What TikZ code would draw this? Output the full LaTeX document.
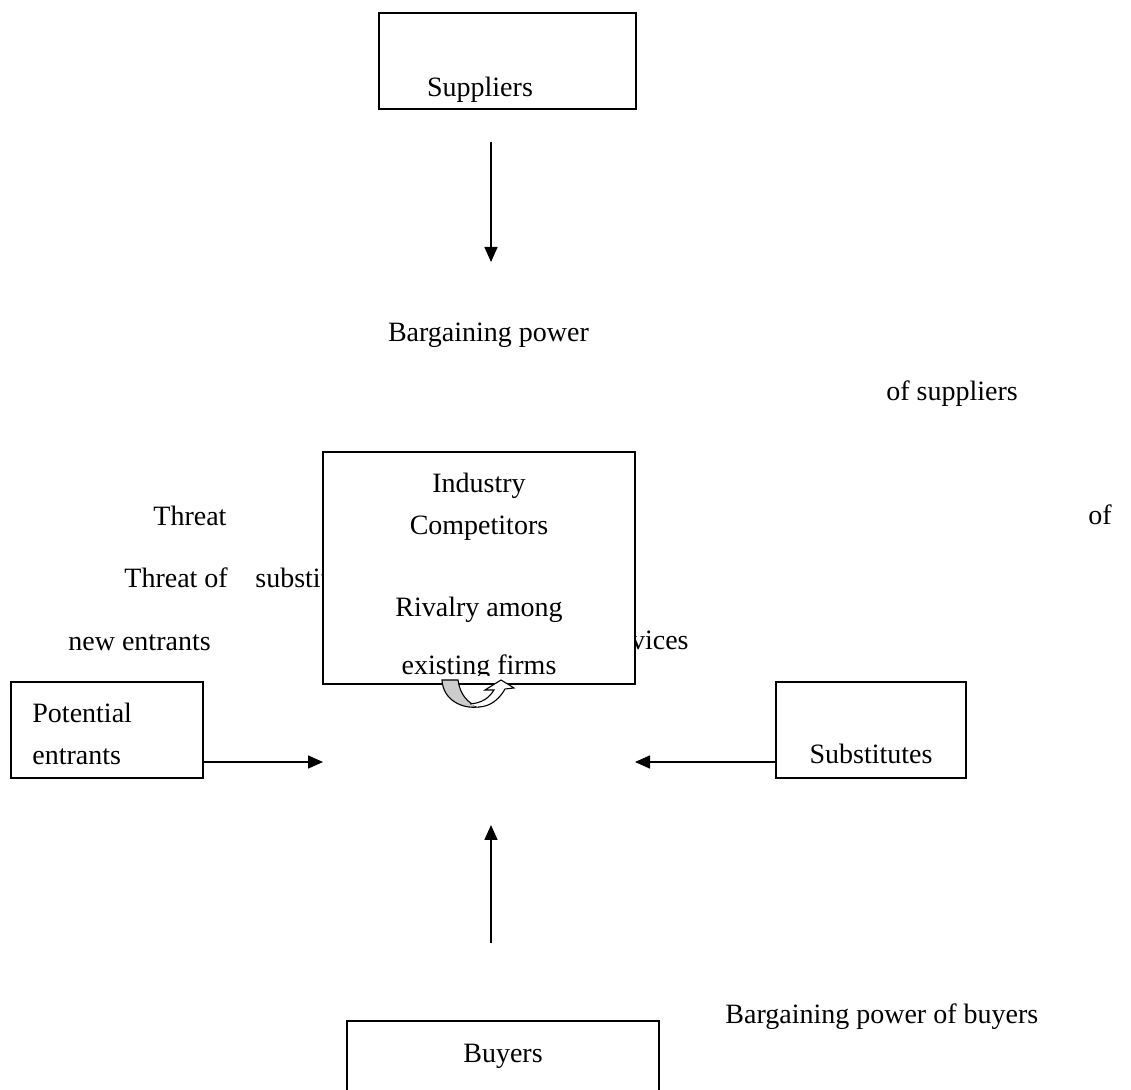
\documentclass[tikz,border=0pt]{standalone}
\usepackage{fontspec}
\setmainfont{Liberation Serif}
\usetikzlibrary{arrows.meta}
\begin{document}
\begin{tikzpicture}[x=0.5pt,y=-0.5pt,
  box/.style={draw, line width=0.85pt, fill=white, inner sep=0pt, rectangle},
  lbl/.style={inner sep=0pt, font=\fontsize{14}{16}\selectfont},
  arr/.style={line width=0.8pt, -{Triangle[length=7.5pt,width=6.5pt]}},
  uturn/.style={draw, line width=0.55pt}]
\clip (0,0) rectangle (1131,1090);
\fill[white] (0,0) rectangle (1131,1090);

% free-standing labels
\node[lbl, anchor=base] (bps) at (488.5,342) {Bargaining power};
\node[lbl, anchor=base] (ofs) at (952,401) {of suppliers};
\node[lbl, anchor=base west] (thr1) at (153,526) {Threat};
\node[lbl, anchor=base west] (ofr) at (1088,525) {of};
\node[lbl, anchor=base west] (thr2) at (124,588) {Threat of};
\node[lbl, anchor=base west] (subs) at (255,588) {substit};
\node[lbl, anchor=base west] (newe) at (68,651) {new entrants};
\node[lbl, anchor=base east] (vic) at (689,650) {rvices};
\node[lbl, anchor=base west] (bpb) at (725,1023) {Bargaining power of buyers};

% boxes
\node[box, minimum width=128.5pt, minimum height=48pt] (sup) at (507.5,61) {};
\node[lbl, anchor=base] (supt) at (480,97) {Suppliers};

\node[box, minimum width=156pt, minimum height=116pt] (ind) at (479,568) {};
\node[lbl, anchor=base] (ind1) at (479,493) {Industry};
\node[lbl, anchor=base] (ind2) at (479,535) {Competitors};
\node[lbl, anchor=base] (ind3) at (479,617) {Rivalry among};
\begin{scope}
  \clip (323,600) rectangle (635,676);
  \node[lbl, anchor=base] (ind4) at (479,675) {existing firms};
\end{scope}

\node[box, minimum width=96pt, minimum height=48pt] (pot) at (107,730) {};
\node[lbl, anchor=base west] (pot1) at (32,723) {Potential};
\node[lbl, anchor=base west] (pot2) at (32,765) {entrants};

\node[box, minimum width=95pt, minimum height=48pt] (sub) at (871,730) {};
\node[lbl, anchor=base] (subt) at (871,764) {Substitutes};

\node[box, minimum width=156pt, minimum height=48pt] (buy) at (503,1069) {};
\node[lbl, anchor=base] (buyt) at (503,1062) {Buyers};

% arrows
\coordinate (s1) at (491,142);
\coordinate (s2) at (491,262);
\draw[arr] (s1) -- (s2);

\coordinate (pa) at (323,762);
\draw[arr] (pot.east |- pa) -- (pa);

\coordinate (sa) at (635,762);
\draw[arr] (sub.west |- sa) -- (sa);

\coordinate (b1) at (491,943);
\coordinate (b2) at (491,825);
\draw[arr] (b1) -- (b2);

% u-turn arrow under the industry box
\path[uturn, fill=gray!40] (442,680) -- (458,680)
  .. controls (460,695) and (468,703) .. (478,707)
  .. controls (462,709) and (443,700) .. (442,680) -- cycle;
\path[uturn, fill=white] (478,707)
  .. controls (491,707) and (500,698) .. (505,689)
  -- (514,688) -- (501,680) -- (485,690) -- (494,690)
  .. controls (489,698) and (482,703) .. (470,704);
\end{tikzpicture}
\end{document}
